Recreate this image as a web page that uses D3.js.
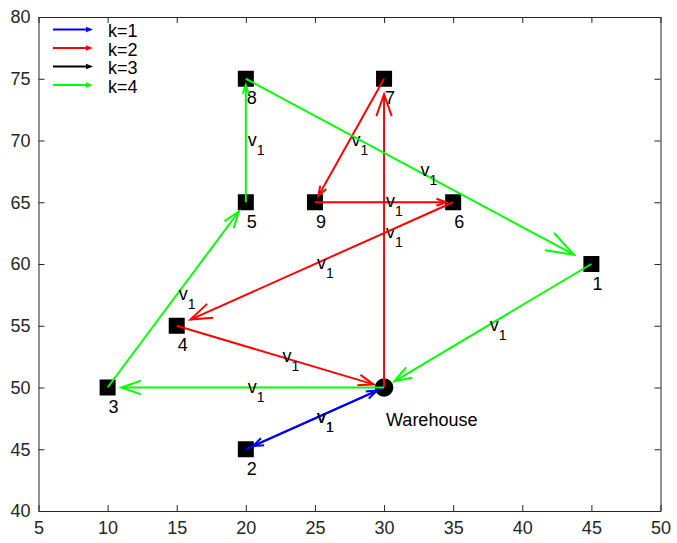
<!DOCTYPE html>
<html>
<head>
<meta charset="utf-8">
<script src="https://cdn.jsdelivr.net/npm/d3@7/dist/d3.min.js"></script>
<style>
    body { margin: 0; background: #fff; }
    text { font-family: 'Liberation Sans', Arial, sans-serif; }
</style>
</head>
<body>
<script>
(function () {

    'use strict'

    // nodes: index 0 is the depot
    const nodeNames = ['Warehouse', '1', '2', '3', '4', '5', '6', '7', '8', '9']
    const nodeX = [30, 45, 20, 10, 15, 20, 35, 30, 20, 25]
    const nodeY = [50, 60, 45, 50, 55, 65, 65, 75, 75, 65]

    // routes by vehicle type k, as node indices
    const routeK1 = [0, 2, 0]
    const routeK2 = [0, 7, 9, 6, 4, 0]
    const routeK3 = []
    const routeK4 = [0, 3, 5, 8, 1, 0]

    const legendLabels = ['k=1', 'k=2', 'k=3', 'k=4']
    const routeColors = ['#0000ff', '#ff0000', '#000000', '#00ff00']

    const xTicks = [5, 10, 15, 20, 25, 30, 35, 40, 45, 50]
    const yTicks = [40, 45, 50, 55, 60, 65, 70, 75, 80]

    const width = 677
        , height = 543
        , plot = { left: 38.5, right: 660.5, top: 17, bottom: 511 }
        , axisColor = '#262626'
        , arrowScale = 0.95

    const svg = d3.select('body')
        .append('svg')
        .attr('width', width)
        .attr('height', height)

    const xScale = d3.scaleLinear().domain([5, 50]).range([plot.left, plot.right])
    const yScale = d3.scaleLinear().domain([40, 80]).range([plot.bottom, plot.top])

    // axes, MATLAB-like box with inward ticks on all four sides
    function styleAxis(g) {
        g.select('.domain').attr('stroke', axisColor)
        g.selectAll('.tick line').attr('stroke', axisColor)
        g.selectAll('.tick text')
            .attr('fill', axisColor)
            .style('font-size', '18px')
            .style('font-family', "'Liberation Sans', Arial, sans-serif")
    }

    svg.append('g')
        .attr('transform', 'translate(0,' + plot.bottom + ')')
        .call(d3.axisBottom(xScale).tickValues(xTicks).tickSizeInner(-6).tickSizeOuter(0).tickPadding(10))
        .call(styleAxis)

    svg.append('g')
        .attr('transform', 'translate(0,' + plot.top + ')')
        .call(d3.axisTop(xScale).tickValues(xTicks).tickSizeInner(-6).tickSizeOuter(0).tickFormat(''))
        .call(styleAxis)

    svg.append('g')
        .attr('transform', 'translate(' + plot.left + ',0)')
        .call(d3.axisLeft(yScale).tickValues(yTicks).tickSizeInner(-6).tickSizeOuter(0).tickPadding(8))
        .call(styleAxis)

    svg.append('g')
        .attr('transform', 'translate(' + plot.right + ',0)')
        .call(d3.axisRight(yScale).tickValues(yTicks).tickSizeInner(-6).tickSizeOuter(0).tickFormat(''))
        .call(styleAxis)

    // nodes
    const nodes = nodeNames.map((name, i) => ({ name: name, x: nodeX[i], y: nodeY[i], depot: i === 0 }))

    svg.selectAll('.cust')
        .data(nodes.filter(d => !d.depot))
        .enter()
        .append('rect')
        .attr('class', 'cust')
        .attr('x', d => xScale(d.x) - 8)
        .attr('y', d => yScale(d.y) - 8)
        .attr('width', 16)
        .attr('height', 16)
        .attr('fill', '#000')

    svg.selectAll('.depot')
        .data(nodes.filter(d => d.depot))
        .enter()
        .append('circle')
        .attr('class', 'depot')
        .attr('cx', d => xScale(d.x))
        .attr('cy', d => yScale(d.y))
        .attr('r', 9.3)
        .attr('fill', '#000')

    svg.selectAll('.nodeLabel')
        .data(nodes)
        .enter()
        .append('text')
        .attr('class', 'nodeLabel')
        .attr('x', d => xScale(d.x) + (d.depot ? 2 : 1))
        .attr('y', d => yScale(d.y - (d.depot ? 2.5 : 1.5)) + (d.depot ? 8 : 7))
        .style('font-size', '18px')
        .attr('fill', '#000')
        .text(d => d.name)

    // quiver style arrows with open heads
    function drawRoute(route, color) {
        let g = svg.append('g')
        for (let i = 0; i < route.length - 1; i++) {
            let a = nodes[route[i]], b = nodes[route[i + 1]]
            let x0 = xScale(a.x), y0 = yScale(a.y)
            let dx = (xScale(b.x) - x0) * arrowScale
                , dy = (yScale(b.y) - y0) * arrowScale
            let len = Math.sqrt(dx * dx + dy * dy)
            let ux = dx / len, uy = dy / len
            let tx = x0 + dx, ty = y0 + dy
            let hl = 0.075 * len, hw = 0.35 * hl

            g.append('line')
                .attr('x1', x0).attr('y1', y0)
                .attr('x2', tx).attr('y2', ty)
                .attr('stroke', color)
                .attr('stroke-width', 2)

            g.append('path')
                .attr('d', 'M' + (tx - ux * hl - uy * hw) + ',' + (ty - uy * hl + ux * hw)
                    + 'L' + tx + ',' + ty
                    + 'L' + (tx - ux * hl + uy * hw) + ',' + (ty - uy * hl - ux * hw))
                .attr('fill', 'none')
                .attr('stroke', color)
                .attr('stroke-width', 2)

            // v_1 label at the midpoint
            let lab = g.append('text')
                .attr('x', (xScale(a.x) + xScale(b.x)) / 2 + 2)
                .attr('y', (yScale(a.y) + yScale(b.y)) / 2 + 5)
                .attr('fill', '#000')
                .style('font-size', '18px')
            lab.append('tspan').text('v')
            lab.append('tspan').attr('dy', 9).style('font-size', '14px').text('1')
        }
    }

    drawRoute(routeK1, routeColors[0])
    drawRoute(routeK2, routeColors[1])
    drawRoute(routeK3, routeColors[2])
    drawRoute(routeK4, routeColors[3])

    // legend
    const legend = svg.append('g')
    legendLabels.forEach((lab, i) => {
        let y = 29.5 + i * 18.5
        legend.append('line')
            .attr('x1', 53).attr('x2', 89)
            .attr('y1', y).attr('y2', y)
            .attr('stroke', routeColors[i])
            .attr('stroke-width', 2)
        legend.append('path')
            .attr('d', 'M86,' + (y - 2.8) + 'L93,' + y + 'L86,' + (y + 2.8) + 'Z')
            .attr('fill', routeColors[i])
        legend.append('text')
            .attr('x', 108)
            .attr('y', y + 1.5)
            .attr('dy', '0.35em')
            .style('font-size', '18px')
            .attr('fill', '#000')
            .text(lab)
    })
})()
</script>
</body>
</html>
